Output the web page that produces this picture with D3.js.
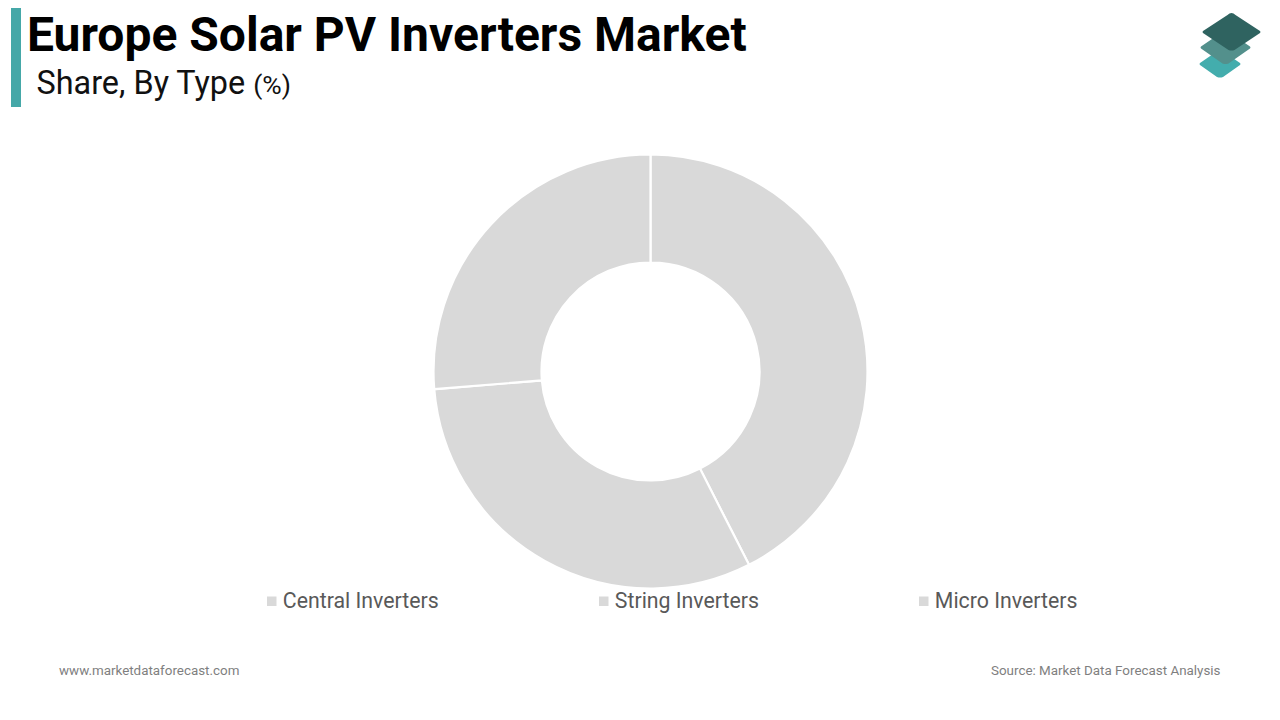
<!DOCTYPE html>
<html lang="en">
<head>
  <meta charset="UTF-8">
  <title>Europe Solar PV Inverters Market</title>
  <script src="https://d3js.org/d3.v7.min.js"></script>
  <style>
    html, body { margin: 0; padding: 0; background: #fff; overflow: hidden; }
    svg { display: block; font-family: Roboto, sans-serif; }
  </style>
</head>
<body>
<svg id="chart" width="1280" height="720"></svg>
<script>
  const categories = ["Central Inverters", "String Inverters", "Micro Inverters"];
  const shares = [42.5, 31.2, 26.3];
  const legendX = [267, 599, 919];

  const svg = d3.select("#chart");

  // header
  svg.append("rect").attr("x", 11).attr("y", 8).attr("width", 10).attr("height", 99).attr("fill", "#45a8a8");
  svg.append("text").attr("x", 27).attr("y", 51).attr("font-size", 48).attr("font-weight", 700)
    .attr("fill", "#000").text("Europe Solar PV Inverters Market");
  const sub = svg.append("text").attr("x", 36.5).attr("y", 94).attr("font-size", 32.4).attr("fill", "#111");
  sub.append("tspan").text("Share, By Type ");
  sub.append("tspan").attr("font-size", 26.5).text("(%)");

  // logo, three stacked tiles
  const tile = (cx, cy, w, h) => `M${cx},${cy - h}Q${cx + 2},${cy - h} ${cx + 4},${cy - h + 2}L${cx + w - 1},${cy - 1}Q${cx + w},${cy} ${cx + w - 1},${cy + 1}L${cx + 3},${cy + h - 1}Q${cx},${cy + h} ${cx - 3},${cy + h - 1}L${cx - w + 1},${cy + 1}Q${cx - w},${cy} ${cx - w + 1},${cy - 1}L${cx - 4},${cy - h + 2}Q${cx - 2},${cy - h} ${cx},${cy - h}Z`;
  const logo = svg.append("g");
  logo.append("path").attr("d", tile(1220, 64, 21, 14)).attr("fill", "#43adad");
  logo.append("path").attr("d", tile(1225.5, 47.5, 25.5, 17)).attr("fill", "#53908c");
  logo.append("path").attr("d", tile(1231.5, 32, 29.5, 19)).attr("fill", "#2f6360");

  // donut
  const pie = d3.pie().sort(null);
  const arc = d3.arc().innerRadius(109).outerRadius(217);
  svg.append("g").attr("transform", "translate(650.5,371.5)")
    .selectAll("path")
    .data(pie(shares))
    .join("path")
    .attr("d", arc)
    .attr("fill", "#d9d9d9")
    .attr("stroke", "#fff")
    .attr("stroke-width", 2.2);

  // legend
  const legend = svg.append("g").selectAll("g").data(categories).join("g")
    .attr("transform", (d, i) => `translate(${legendX[i]},601)`);
  legend.append("rect").attr("x", 0).attr("y", -4.5).attr("width", 9.5).attr("height", 9.5).attr("fill", "#d9d9d9");
  legend.append("text").attr("x", 15.8).attr("y", 7).attr("font-size", 21.3)
    .attr("fill", "#595959").text(d => d);

  // footer
  svg.append("text").attr("x", 59).attr("y", 675).attr("font-size", 13.4).attr("fill", "#7f7f7f")
    .text("www.marketdataforecast.com");
  svg.append("text").attr("x", 1220.5).attr("y", 675).attr("text-anchor", "end").attr("font-size", 13.4)
    .attr("fill", "#7f7f7f").text("Source: Market Data Forecast Analysis");
</script>
</body>
</html>
